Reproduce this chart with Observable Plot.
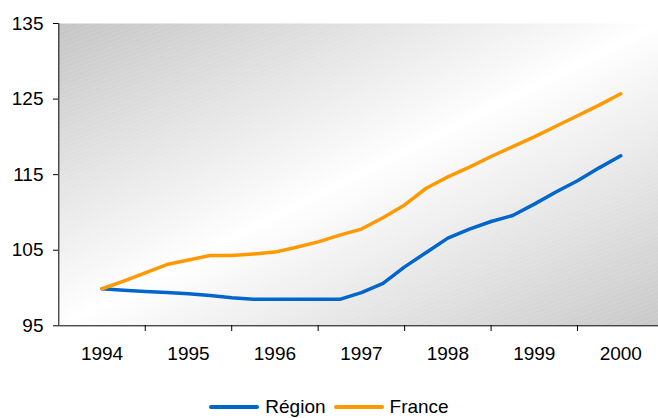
<!DOCTYPE html>
<html><head><meta charset="utf-8">
<script src="https://cdn.jsdelivr.net/npm/d3@7"></script>
<script src="https://cdn.jsdelivr.net/npm/@observablehq/plot@0.6"></script>
<style>
html,body{margin:0;padding:0;background:#fff;overflow:hidden;}
#wrap{position:relative;width:658px;height:418px;font-family:"Liberation Sans",Arial,sans-serif;}
#wrap svg{display:block;}
#legend{position:absolute;left:0;top:385px;width:658px;height:44px;display:flex;justify-content:center;align-items:center;font-size:19px;color:#000;}
.item{display:flex;align-items:center;margin:0 4px;}
.sw{width:50px;height:4px;border-radius:2px;margin-right:6px;}
</style></head><body><div id="wrap"></div>
<script>
const years = [1994, 1995, 1996, 1997, 1998, 1999, 2000];
const yearBounds = [1994.5, 1995.5, 1996.5, 1997.5, 1998.5, 1999.5];
const periods = [1994, 1994.25, 1994.5, 1994.75, 1995, 1995.25, 1995.5, 1995.75,
  1996, 1996.25, 1996.5, 1996.75, 1997, 1997.25, 1997.5, 1997.75,
  1998, 1998.25, 1998.5, 1998.75, 1999, 1999.25, 1999.5, 1999.75, 2000];
const region = [99.9, 99.7, 99.55, 99.4, 99.25, 99.0, 98.7, 98.5, 98.5, 98.5, 98.5, 98.5,
  99.4, 100.6, 102.8, 104.7, 106.6, 107.8, 108.8, 109.6, 111.1, 112.7, 114.2, 115.9, 117.5];
const france = [99.9, 100.9, 102.0, 103.1, 103.7, 104.3, 104.3, 104.5, 104.75, 105.4, 106.1, 107.0,
  107.8, 109.3, 111.0, 113.2, 114.7, 116.0, 117.4, 118.7, 120.0, 121.4, 122.8, 124.2, 125.7];
const seriesNames = ["Région", "France"];
const seriesColors = ["#0066CC", "#FF9900"];
const yTicks = [95, 105, 115, 125, 135];

const rows = [];
periods.forEach((p, i) => {
  rows.push({period: p, value: region[i], serie: seriesNames[0]});
  rows.push({period: p, value: france[i], serie: seriesNames[1]});
});

const font = '"Liberation Sans", Arial, sans-serif';
const chart = Plot.plot({
  width: 658, height: 385,
  marginLeft: 58, marginTop: 23, marginBottom: 60, marginRight: 0,
  x: {type: "linear", domain: [1993.5, 2000.5], range: [58.3, 663.5]},
  y: {domain: [95, 135], range: [325.3, 23]},
  color: {domain: seriesNames, range: seriesColors},
  style: {fontFamily: font, fontSize: "19px", color: "#000", background: "transparent", overflow: "visible"},
  marks: [
    Plot.frame({fill: "url(#bgGrad)", stroke: "none"}),
    Plot.frame({fill: "url(#bgStripes)", stroke: "none"}),
    Plot.axisY({ticks: yTicks, tickSize: 5, tickPadding: 10, fontSize: 19, label: null, stroke: "#000", strokeOpacity: 1}),
    Plot.axisX({ticks: yearBounds, tickSize: 6, tickFormat: () => "", label: null, stroke: "#000", strokeOpacity: 1}),
    Plot.axisX({ticks: years, tickSize: 0, tickPadding: 21, tickFormat: d => String(d), label: null, fontSize: 19}),
    Plot.ruleX([1993.5], {y1: 95, y2: 135, stroke: "#000"}),
    Plot.ruleY([95], {stroke: "#000"}),
    Plot.line(rows, {x: "period", y: "value", stroke: "serie", z: "serie", strokeWidth: 3.5, strokeLinecap: "round", strokeLinejoin: "round"})
  ]
});

const svg = d3.select(chart);
const defs = svg.insert("defs", ":first-child");
const g = defs.append("linearGradient").attr("id", "bgGrad")
  .attr("x1", 0).attr("y1", 0).attr("x2", 1).attr("y2", 1);
g.append("stop").attr("offset", 0).attr("stop-color", "#c4c4c4");
g.append("stop").attr("offset", 0.5).attr("stop-color", "#ffffff");
g.append("stop").attr("offset", 1).attr("stop-color", "#c8c8c8");
const pat = defs.append("pattern").attr("id", "bgStripes").attr("patternUnits", "userSpaceOnUse")
  .attr("width", 8).attr("height", 4).attr("patternTransform", "rotate(-20)");
pat.append("line").attr("x1", 0).attr("y1", 2).attr("x2", 8).attr("y2", 2)
  .attr("stroke", "#fff").attr("stroke-width", 0.6).attr("stroke-opacity", 0.35)
  .attr("stroke-dasharray", "1.5 1");

const wrap = document.getElementById("wrap");
wrap.appendChild(chart);
const legend = document.createElement("div");
legend.id = "legend";
seriesNames.forEach((name, i) => {
  const it = document.createElement("div");
  it.className = "item";
  const sw = document.createElement("span");
  sw.className = "sw";
  sw.style.background = seriesColors[i];
  const tx = document.createElement("span");
  tx.textContent = name;
  it.appendChild(sw); it.appendChild(tx);
  legend.appendChild(it);
});
wrap.appendChild(legend);
</script></body></html>
